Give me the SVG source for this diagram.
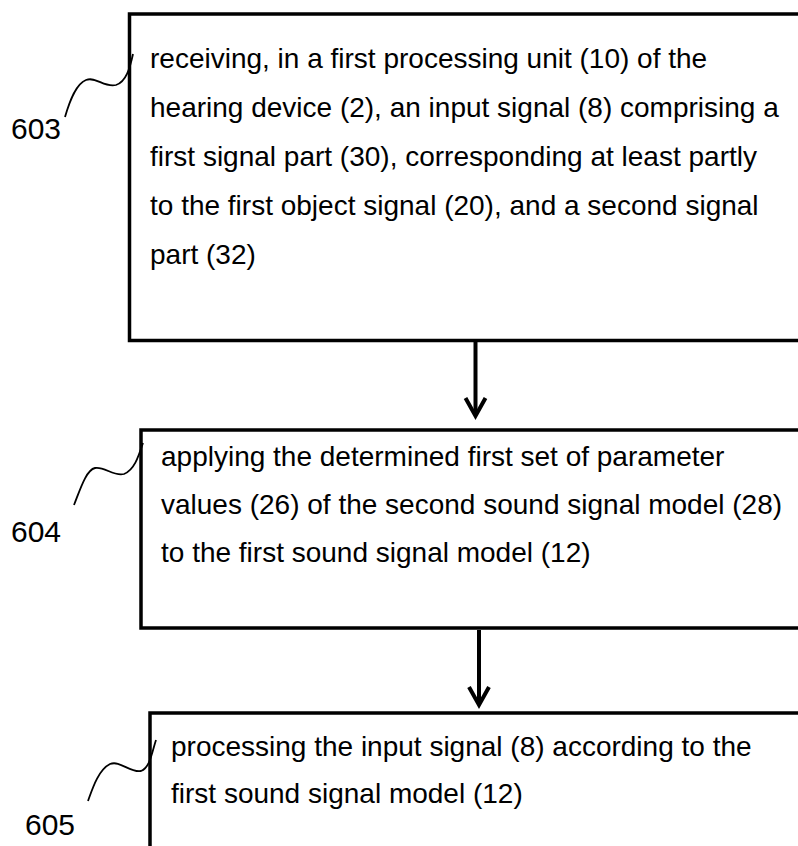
<svg xmlns="http://www.w3.org/2000/svg" width="798" height="846" viewBox="0 0 798 846">
<style>
.box{fill:#fff;stroke:#000;stroke-width:3.5}
.t{font-family:"Liberation Sans",Arial,sans-serif;font-size:28px;fill:#000}
.lbl{font-family:"Liberation Sans",Arial,sans-serif;font-size:30px;fill:#000}
.lead{fill:none;stroke:#000;stroke-width:1.8}
.conn{fill:none;stroke:#000;stroke-width:4}
</style>
<rect x="0" y="0" width="798" height="846" fill="#fff"/>
<g id="connectors">
<line class="conn" x1="475.5" y1="342" x2="475.5" y2="415"/>
<polyline class="conn" points="465.5,398 475.5,416 485.5,398" stroke-linejoin="miter"/>
<line class="conn" x1="479" y1="630" x2="479" y2="704"/>
<polyline class="conn" points="469,687 479,705 489,687" stroke-linejoin="miter"/>
</g>
<g id="node603">
<rect class="box" x="129.5" y="14" width="700" height="326.5"/>
<text class="t" x="150" y="68">receiving, in a first processing unit (10) of the</text>
<text class="t" x="150" y="117">hearing device (2), an input signal (8) comprising a</text>
<text class="t" x="150" y="166">first signal part (30), corresponding at least partly</text>
<text class="t" x="150" y="215">to the first object signal (20), and a second signal</text>
<text class="t" x="150" y="264">part (32)</text>
<text class="lbl" x="11" y="138.5">603</text>
<path class="lead" d="M65,117 C70,100 76,84 86,80 C96,76 104,88 116,85 C126,82 130,68 133,54"/>
</g>
<g id="node604">
<rect class="box" x="141" y="430" width="700" height="198"/>
<text class="t" x="161" y="466">applying the determined first set of parameter</text>
<text class="t" x="161" y="514">values (26) of the second sound signal model (28)</text>
<text class="t" x="161" y="562">to the first sound signal model (12)</text>
<text class="lbl" x="11" y="542">604</text>
<path class="lead" d="M74,505 C80,490 86,470 95,468 C104,466 114,477 124,474 C134,470 138,458 143,443"/>
</g>
<g id="node605">
<rect class="box" x="150" y="713" width="700" height="200"/>
<text class="t" x="171" y="756">processing the input signal (8) according to the</text>
<text class="t" x="171" y="803">first sound signal model (12)</text>
<text class="lbl" x="25" y="835">605</text>
<path class="lead" d="M88,801 C92,790 98,770 110,764 C120,760 130,773 141,771 C150,768 152,752 156,740"/>
</g>
</svg>
